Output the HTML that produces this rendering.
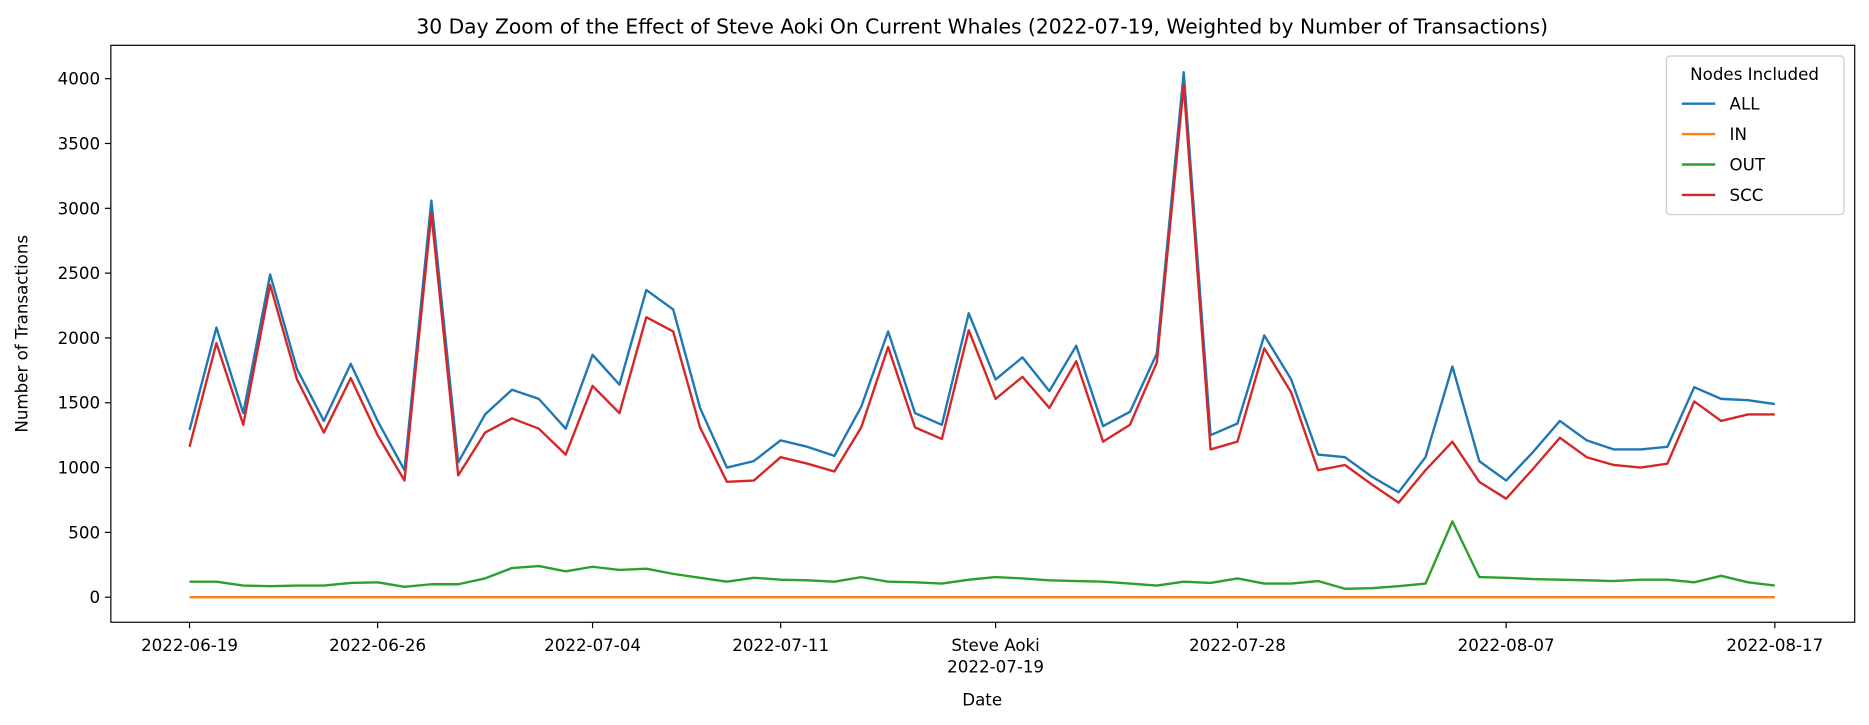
<!DOCTYPE html>
<html><head><meta charset="utf-8"><style>
body{margin:0;background:#fff;}
svg{display:block;font-family:"DejaVu Sans","Liberation Sans",sans-serif;}
</style></head><body>
<svg id="chart" width="1869" height="725" viewBox="0 0 1568 608.2" preserveAspectRatio="none">
<text x="824" y="28" text-anchor="middle" font-size="17">30 Day Zoom of the Effect of Steve Aoki On Current Whales (2022-07-19, Weighted by Number of Transactions)</text>
<g id="plot"></g>
<text x="824" y="592" text-anchor="middle" font-size="14">Date</text>
<text transform="translate(23,280) rotate(-90)" text-anchor="middle" font-size="14">Number of Transactions</text>
</svg>
<script>
const seriesNames=["ALL","IN","OUT","SCC"];
const colors=["#1f77b4","#ff7f0e","#2ca02c","#d62728"];
const allVals=[1290,2080,1420,2490,1760,1360,1800,1360,980,3060,1040,1410,1600,1530,1300,1870,1640,2370,2220,1460,1000,1050,1210,1160,1090,1470,2050,1420,1330,2190,1680,1850,1590,1940,1320,1430,1880,4050,1250,1340,2020,1680,1100,1080,930,810,1080,1780,1050,900,1120,1360,1210,1140,1140,1160,1620,1530,1520,1490];
const inVals=new Array(60).fill(0);
const outVals=[120,120,90,85,90,90,110,115,80,100,100,145,225,240,200,235,210,220,180,150,120,150,135,130,120,155,120,115,105,135,155,145,130,125,120,105,90,120,110,145,105,105,125,65,70,85,105,585,155,150,140,135,130,125,135,135,115,165,115,90];
const sccVals=[1160,1960,1330,2410,1680,1270,1690,1250,900,2960,940,1270,1380,1300,1100,1630,1420,2160,2050,1310,890,900,1080,1030,970,1310,1930,1310,1220,2060,1530,1700,1460,1820,1200,1330,1810,3950,1140,1200,1920,1580,980,1020,870,730,980,1200,890,760,990,1230,1080,1020,1000,1030,1510,1360,1410,1410];
const yTicks=[0,500,1000,1500,2000,2500,3000,3500,4000];
const xTickIdx=[0,7,15,22,30,39,49,59];
const xTickLabels=["2022-06-19","2022-06-26","2022-07-04","2022-07-11","2022-07-19","2022-07-28","2022-08-07","2022-08-17"];
const NS="http://www.w3.org/2000/svg";
const L=93,R=1556,T=38,B=522;
const xS=i=>159+i*(1489-159)/59;
const yS=v=>501-v*(501-66)/4000;
const g=document.getElementById('plot');
function mk(t,a){const e=document.createElementNS(NS,t);for(const k in a)e.setAttribute(k,a[k]);g.appendChild(e);return e;}
const frame=mk('rect',{x:L,y:T,width:R-L,height:B-T,fill:'none',stroke:'#000','stroke-width':1});


yTicks.forEach(v=>{const y=yS(v);
const tk=mk('line',{x1:L-5,x2:L,y1:y,y2:y,stroke:'#000'});


const t=mk('text',{x:L-9,y:y+5,'text-anchor':'end','font-size':14});t.textContent=v;

});
xTickIdx.forEach((i,k)=>{const x=xS(i);
const tk=mk('line',{x1:x,x2:x,y1:B,y2:B+5,stroke:'#000'});


const t=mk('text',{x:x,y:B+24,'text-anchor':'middle','font-size':14});t.textContent=xTickLabels[k];


if(i===30){const a=mk('text',{x:x,y:B+24,'text-anchor':'middle','font-size':14});a.textContent='Steve Aoki';


t.setAttribute('y',B+42);}});
[allVals,inVals,outVals,sccVals].forEach((arr,s)=>{
const p=mk('polyline',{points:arr.map((v,i)=>xS(i)+','+yS(v)).join(' '),fill:'none',stroke:colors[s],'stroke-width':2,'stroke-linejoin':'round'});

});
const lb=mk('rect',{x:1398,y:47,width:149,height:133,rx:3,fill:'#fff',stroke:'#ccc'});


const lt=mk('text',{x:1472,y:67,'text-anchor':'middle','font-size':14});lt.textContent='Nodes Included';


seriesNames.forEach((n,s)=>{const y=87+s*25.5;
const ln=mk('line',{x1:1411,x2:1439,y1:y,y2:y,stroke:colors[s],'stroke-width':2});


const t=mk('text',{x:1451,y:y+5,'font-size':14});t.textContent=n;

});
</script>
</body></html>
